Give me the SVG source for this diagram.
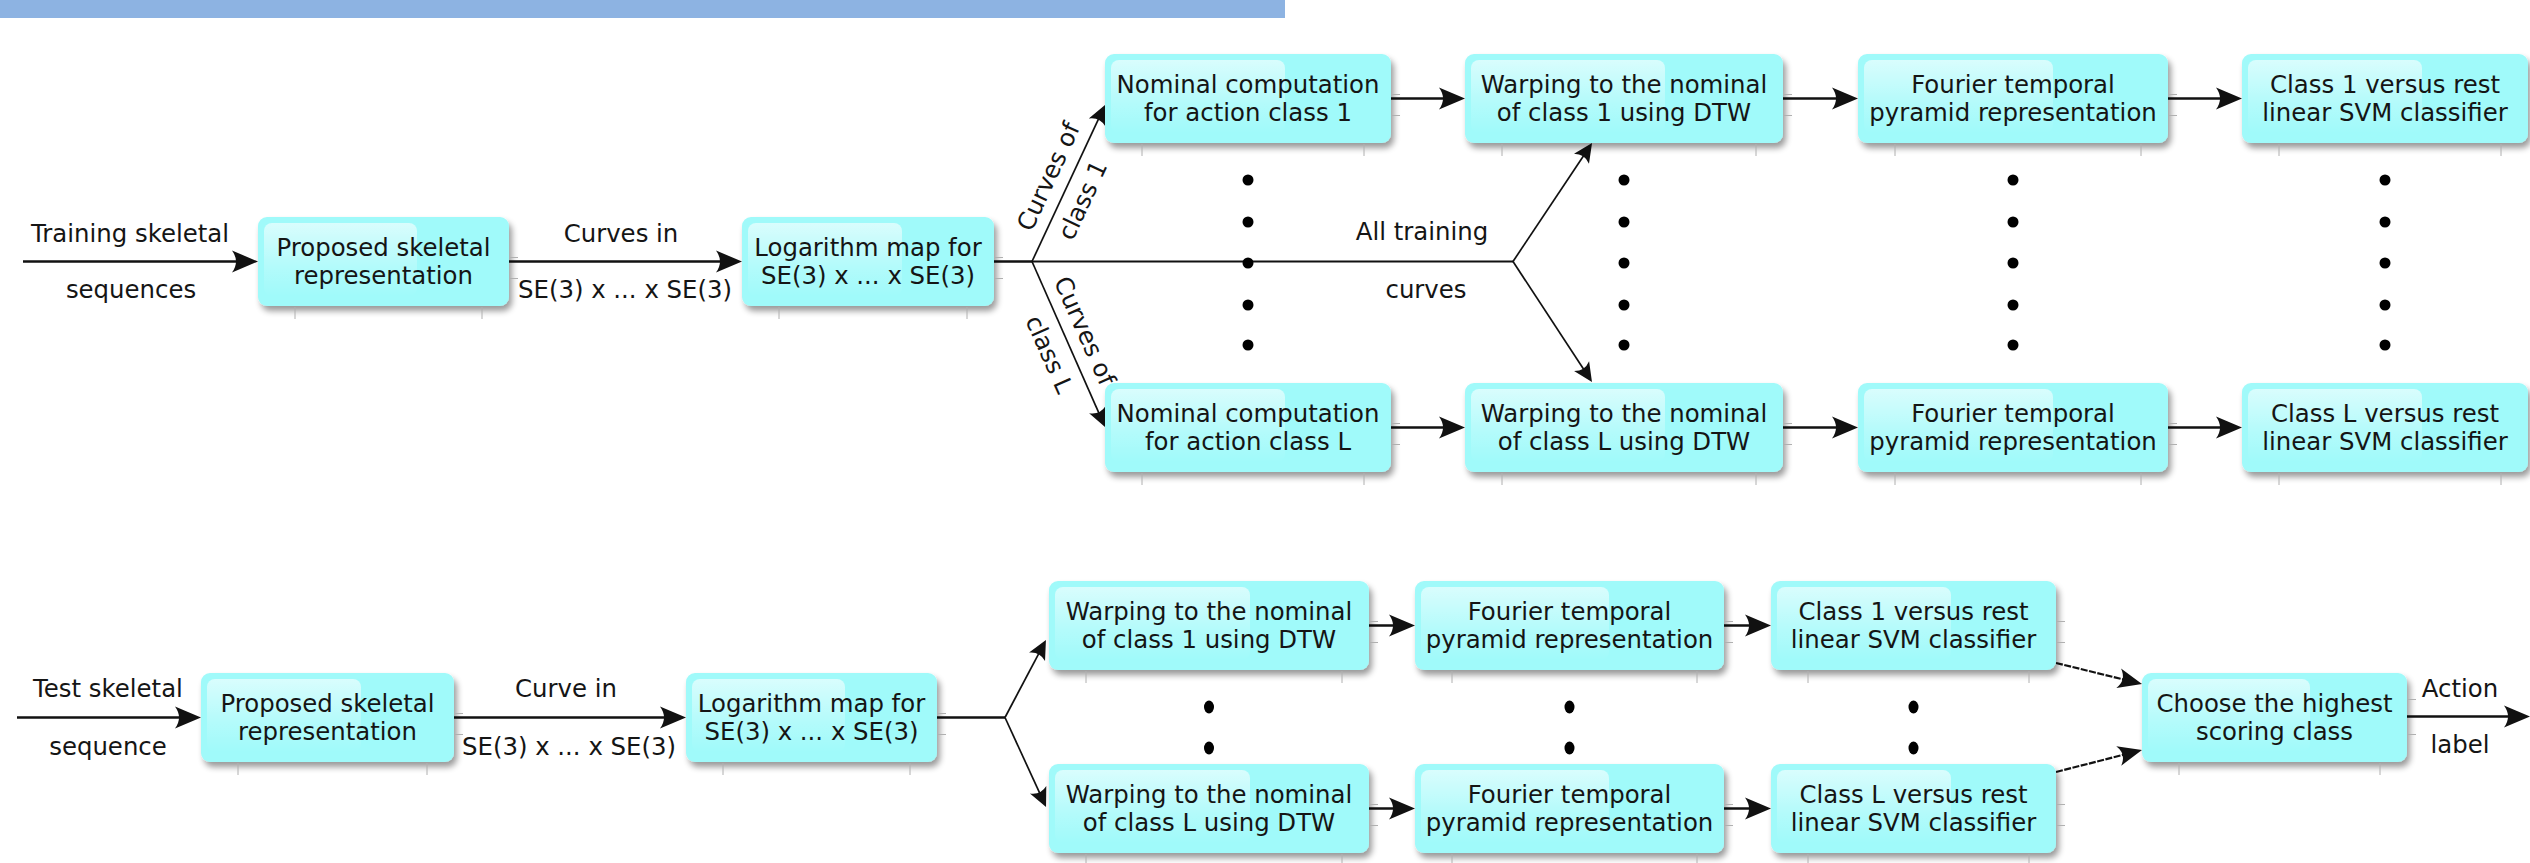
<svg xmlns="http://www.w3.org/2000/svg" width="2530" height="863" viewBox="0 0 2530 863">
<defs>
<style>
.bg{fill:#a0fafa}
.gl{fill:url(#glg)}
.t{font-family:"DejaVu Sans","Verdana",sans-serif;font-size:24.4px;fill:#151515;text-anchor:middle}
.tick{stroke:#b0b0b0;stroke-width:1;fill:none}
.ln{stroke:#111;stroke-width:2.7;fill:none}
.lt{stroke:#111;stroke-width:1.7;fill:none}
.ld{stroke:#111;stroke-width:2.2;fill:none;stroke-dasharray:7 1.5}
.dot{fill:#000}
</style>
<linearGradient id="glg" x1="0" y1="0" x2="0" y2="1">
<stop offset="0" stop-color="#fff" stop-opacity="0.6"/>
<stop offset="0.6" stop-color="#fff" stop-opacity="0.2"/>
<stop offset="1" stop-color="#fff" stop-opacity="0"/>
</linearGradient>
<filter id="sh" x="-10%" y="-10%" width="130%" height="145%">
<feGaussianBlur in="SourceAlpha" stdDeviation="3"/>
<feOffset dx="3" dy="5" result="o"/>
<feComponentTransfer><feFuncA type="linear" slope="0.4"/></feComponentTransfer>
<feMerge><feMergeNode/><feMergeNode in="SourceGraphic"/></feMerge>
</filter>
<marker id="ab" markerUnits="userSpaceOnUse" viewBox="-27 -12 28 24" refX="-12" refY="0" markerWidth="28" markerHeight="24" orient="auto">
<path d="M0,0 L-26,-11 Q-18,0 -26,11 Z" fill="#111"/>
</marker>
<marker id="as" markerUnits="userSpaceOnUse" viewBox="-20 -10 21 20" refX="-8" refY="0" markerWidth="21" markerHeight="20" orient="auto">
<path d="M0,0 L-19,-9 Q-13,0 -19,9 Z" fill="#111"/>
</marker>
<marker id="am" markerUnits="userSpaceOnUse" viewBox="-25 -11 26 22" refX="-10" refY="0" markerWidth="26" markerHeight="22" orient="auto">
<path d="M0,0 L-24,-10 Q-16,0 -24,10 Z" fill="#111"/>
</marker>
</defs>
<rect x="0" y="0" width="2530" height="863" fill="#fff"/>
<rect id="titlebar" x="0" y="0" width="1285" height="18" fill="#8db3e2"/>

<g id="connectors">
<line class="ln" x1="23" y1="261.5" x2="246" y2="261.5" marker-end="url(#ab)"/>
<line class="ln" x1="509" y1="261.5" x2="730" y2="261.5" marker-end="url(#ab)"/>
<line class="ln" x1="994" y1="261.5" x2="1032" y2="261.5"/>
<line class="ln" style="stroke-width:2.2" x1="1032" y1="261.5" x2="1513" y2="261.5"/>
<line class="lt" x1="1032" y1="261.5" x2="1101.6" y2="112.3" marker-end="url(#as)"/>
<line class="lt" x1="1032" y1="261.5" x2="1101.8" y2="419.7" marker-end="url(#as)"/>
<line class="lt" x1="1513" y1="261.5" x2="1587.6" y2="149.7" marker-end="url(#as)"/>
<line class="lt" x1="1513" y1="261.5" x2="1587.6" y2="375.3" marker-end="url(#as)"/>
<line class="ln" x1="1391" y1="98.5" x2="1453" y2="98.5" marker-end="url(#ab)"/>
<line class="ln" x1="1783" y1="98.5" x2="1846" y2="98.5" marker-end="url(#ab)"/>
<line class="ln" x1="2168" y1="98.5" x2="2230" y2="98.5" marker-end="url(#ab)"/>
<line class="ln" x1="1391" y1="427.5" x2="1453" y2="427.5" marker-end="url(#ab)"/>
<line class="ln" x1="1783" y1="427.5" x2="1846" y2="427.5" marker-end="url(#ab)"/>
<line class="ln" x1="2168" y1="427.5" x2="2230" y2="427.5" marker-end="url(#ab)"/>

<line class="ln" x1="17" y1="717.5" x2="189" y2="717.5" marker-end="url(#ab)"/>
<line class="ln" x1="454" y1="717.5" x2="674" y2="717.5" marker-end="url(#ab)"/>
<line class="ln" x1="937" y1="717.5" x2="1005" y2="717.5"/>
<line class="lt" x1="1005" y1="717.5" x2="1042.2" y2="647.1" marker-end="url(#as)"/>
<line class="lt" x1="1005" y1="717.5" x2="1042.7" y2="799.7" marker-end="url(#as)"/>
<line class="ln" x1="1369" y1="625.5" x2="1403" y2="625.5" marker-end="url(#ab)"/>
<line class="ln" x1="1724" y1="625.5" x2="1759" y2="625.5" marker-end="url(#ab)"/>
<line class="ln" x1="1369" y1="808.5" x2="1403" y2="808.5" marker-end="url(#ab)"/>
<line class="ln" x1="1724" y1="808.5" x2="1759" y2="808.5" marker-end="url(#ab)"/>
<line class="ld" x1="2056" y1="663" x2="2132.3" y2="681.6" marker-end="url(#am)"/>
<line class="ld" x1="2056" y1="772" x2="2132.3" y2="752.5" marker-end="url(#am)"/>
<line class="ln" x1="2407" y1="716.5" x2="2518" y2="716.5" marker-end="url(#ab)"/>
</g>

<g id="labels">
<text class="t" x="130" y="242">Training skeletal</text>
<text class="t" x="131" y="298">sequences</text>
<text class="t" x="621" y="242">Curves in</text>
<text class="t" x="625" y="298">SE(3) x ... x SE(3)</text>
<text class="t" x="1422" y="240">All training</text>
<text class="t" x="1426" y="298">curves</text>
<g transform="translate(1066,187) rotate(-65)">
<text class="t" x="2" y="-12">Curves of</text>
<text class="t" x="-5" y="29">class 1</text>
</g>
<g transform="translate(1067,341) rotate(66)">
<text class="t" x="-2" y="-12">Curves of</text>
<text class="t" x="5" y="30">class L</text>
</g>
<text class="t" x="108" y="697">Test skeletal</text>
<text class="t" x="108" y="755">sequence</text>
<text class="t" x="566" y="697">Curve in</text>
<text class="t" x="569" y="755">SE(3) x ... x SE(3)</text>
<text class="t" x="2460" y="697">Action</text>
<text class="t" x="2460" y="753">label</text>
</g>

<g id="dots">
<circle class="dot" cx="1248" cy="180" r="5.5"/><circle class="dot" cx="1248" cy="222" r="5.5"/><circle class="dot" cx="1248" cy="263" r="5.5"/><circle class="dot" cx="1248" cy="305" r="5.5"/><circle class="dot" cx="1248" cy="345" r="5.5"/>
<circle class="dot" cx="1624" cy="180" r="5.5"/><circle class="dot" cx="1624" cy="222" r="5.5"/><circle class="dot" cx="1624" cy="263" r="5.5"/><circle class="dot" cx="1624" cy="305" r="5.5"/><circle class="dot" cx="1624" cy="345" r="5.5"/>
<circle class="dot" cx="2013" cy="180" r="5.5"/><circle class="dot" cx="2013" cy="222" r="5.5"/><circle class="dot" cx="2013" cy="263" r="5.5"/><circle class="dot" cx="2013" cy="305" r="5.5"/><circle class="dot" cx="2013" cy="345" r="5.5"/>
<circle class="dot" cx="2385" cy="180" r="5.5"/><circle class="dot" cx="2385" cy="222" r="5.5"/><circle class="dot" cx="2385" cy="263" r="5.5"/><circle class="dot" cx="2385" cy="305" r="5.5"/><circle class="dot" cx="2385" cy="345" r="5.5"/>
<ellipse class="dot" cx="1209" cy="707" rx="5" ry="6.5"/><ellipse class="dot" cx="1209" cy="748" rx="5" ry="6.5"/>
<ellipse class="dot" cx="1569.5" cy="707" rx="5" ry="6.5"/><ellipse class="dot" cx="1569.5" cy="748" rx="5" ry="6.5"/>
<ellipse class="dot" cx="1913.5" cy="707" rx="5" ry="6.5"/><ellipse class="dot" cx="1913.5" cy="748" rx="5" ry="6.5"/>
</g>

<g id="n_prop1">
<rect class="bg" filter="url(#sh)" x="258" y="217" width="251" height="89" rx="9"/>
<rect class="gl" x="264" y="223" width="153" height="73" rx="8"/>
<text class="t" x="383.5" y="255.5">Proposed skeletal</text>
<text class="t" x="383.5" y="284">representation</text>
<path class="tick" d="M295,307v12M482,307v12M510,257.5h8M510,278.5h8"/>
</g>
<g id="n_log1">
<rect class="bg" filter="url(#sh)" x="742" y="217" width="252" height="89" rx="9"/>
<rect class="gl" x="748" y="223" width="154" height="73" rx="8"/>
<text class="t" x="868" y="255.5">Logarithm map for</text>
<text class="t" x="868" y="284">SE(3) x ... x SE(3)</text>
<path class="tick" d="M779,307v12M967,307v12M995,257.5h8M995,278.5h8"/>
</g>
<g id="n_nom1">
<rect class="bg" filter="url(#sh)" x="1105" y="54" width="286" height="89" rx="9"/>
<rect class="gl" x="1111" y="60" width="174" height="73" rx="8"/>
<text class="t" x="1248" y="92.5">Nominal computation</text>
<text class="t" x="1248" y="121">for action class 1</text>
<path class="tick" d="M1142,144v12M1364,144v12M1392,94.5h8M1392,115.5h8"/>
</g>
<g id="n_nomL">
<rect class="bg" filter="url(#sh)" x="1105" y="383" width="286" height="89" rx="9"/>
<rect class="gl" x="1111" y="389" width="174" height="73" rx="8"/>
<text class="t" x="1248" y="421.5">Nominal computation</text>
<text class="t" x="1248" y="450">for action class L</text>
<path class="tick" d="M1142,473v12M1364,473v12M1392,423.5h8M1392,444.5h8"/>
</g>
<g id="n_warp1">
<rect class="bg" filter="url(#sh)" x="1465" y="54" width="318" height="89" rx="9"/>
<rect class="gl" x="1471" y="60" width="194" height="73" rx="8"/>
<text class="t" x="1624" y="92.5">Warping to the nominal</text>
<text class="t" x="1624" y="121">of class 1 using DTW</text>
<path class="tick" d="M1502,144v12M1756,144v12M1784,94.5h8M1784,115.5h8"/>
</g>
<g id="n_warpL">
<rect class="bg" filter="url(#sh)" x="1465" y="383" width="318" height="89" rx="9"/>
<rect class="gl" x="1471" y="389" width="194" height="73" rx="8"/>
<text class="t" x="1624" y="421.5">Warping to the nominal</text>
<text class="t" x="1624" y="450">of class L using DTW</text>
<path class="tick" d="M1502,473v12M1756,473v12M1784,423.5h8M1784,444.5h8"/>
</g>
<g id="n_four1">
<rect class="bg" filter="url(#sh)" x="1858" y="54" width="310" height="89" rx="9"/>
<rect class="gl" x="1864" y="60" width="189" height="73" rx="8"/>
<text class="t" x="2013" y="92.5">Fourier temporal</text>
<text class="t" x="2013" y="121">pyramid representation</text>
<path class="tick" d="M1895,144v12M2141,144v12M2169,94.5h8M2169,115.5h8"/>
</g>
<g id="n_fourL">
<rect class="bg" filter="url(#sh)" x="1858" y="383" width="310" height="89" rx="9"/>
<rect class="gl" x="1864" y="389" width="189" height="73" rx="8"/>
<text class="t" x="2013" y="421.5">Fourier temporal</text>
<text class="t" x="2013" y="450">pyramid representation</text>
<path class="tick" d="M1895,473v12M2141,473v12M2169,423.5h8M2169,444.5h8"/>
</g>
<g id="n_svm1">
<rect class="bg" filter="url(#sh)" x="2242" y="54" width="286" height="89" rx="9"/>
<rect class="gl" x="2248" y="60" width="174" height="73" rx="8"/>
<text class="t" x="2385" y="92.5">Class 1 versus rest</text>
<text class="t" x="2385" y="121">linear SVM classifier</text>
<path class="tick" d="M2279,144v12M2501,144v12"/>
</g>
<g id="n_svmL">
<rect class="bg" filter="url(#sh)" x="2242" y="383" width="286" height="89" rx="9"/>
<rect class="gl" x="2248" y="389" width="174" height="73" rx="8"/>
<text class="t" x="2385" y="421.5">Class L versus rest</text>
<text class="t" x="2385" y="450">linear SVM classifier</text>
<path class="tick" d="M2279,473v12M2501,473v12"/>
</g>

<g id="n_prop2">
<rect class="bg" filter="url(#sh)" x="201" y="673" width="253" height="89" rx="9"/>
<rect class="gl" x="207" y="679" width="154" height="73" rx="8"/>
<text class="t" x="327.5" y="711.5">Proposed skeletal</text>
<text class="t" x="327.5" y="740">representation</text>
<path class="tick" d="M238,763v12M427,763v12M455,713.5h8M455,734.5h8"/>
</g>
<g id="n_log2">
<rect class="bg" filter="url(#sh)" x="686" y="673" width="251" height="89" rx="9"/>
<rect class="gl" x="692" y="679" width="153" height="73" rx="8"/>
<text class="t" x="811.5" y="711.5">Logarithm map for</text>
<text class="t" x="811.5" y="740">SE(3) x ... x SE(3)</text>
<path class="tick" d="M723,763v12M910,763v12M938,713.5h8M938,734.5h8"/>
</g>
<g id="n_warpB1">
<rect class="bg" filter="url(#sh)" x="1049" y="581" width="320" height="89" rx="9"/>
<rect class="gl" x="1055" y="587" width="195" height="73" rx="8"/>
<text class="t" x="1209" y="619.5">Warping to the nominal</text>
<text class="t" x="1209" y="648">of class 1 using DTW</text>
<path class="tick" d="M1086,671v12M1342,671v12M1370,621.5h8M1370,642.5h8"/>
</g>
<g id="n_warpBL">
<rect class="bg" filter="url(#sh)" x="1049" y="764" width="320" height="89" rx="9"/>
<rect class="gl" x="1055" y="770" width="195" height="73" rx="8"/>
<text class="t" x="1209" y="802.5">Warping to the nominal</text>
<text class="t" x="1209" y="831">of class L using DTW</text>
<path class="tick" d="M1086,854v12M1342,854v12M1370,804.5h8M1370,825.5h8"/>
</g>
<g id="n_fourB1">
<rect class="bg" filter="url(#sh)" x="1415" y="581" width="309" height="89" rx="9"/>
<rect class="gl" x="1421" y="587" width="188" height="73" rx="8"/>
<text class="t" x="1569.5" y="619.5">Fourier temporal</text>
<text class="t" x="1569.5" y="648">pyramid representation</text>
<path class="tick" d="M1452,671v12M1697,671v12M1725,621.5h8M1725,642.5h8"/>
</g>
<g id="n_fourBL">
<rect class="bg" filter="url(#sh)" x="1415" y="764" width="309" height="89" rx="9"/>
<rect class="gl" x="1421" y="770" width="188" height="73" rx="8"/>
<text class="t" x="1569.5" y="802.5">Fourier temporal</text>
<text class="t" x="1569.5" y="831">pyramid representation</text>
<path class="tick" d="M1452,854v12M1697,854v12M1725,804.5h8M1725,825.5h8"/>
</g>
<g id="n_svmB1">
<rect class="bg" filter="url(#sh)" x="1771" y="581" width="285" height="89" rx="9"/>
<rect class="gl" x="1777" y="587" width="174" height="73" rx="8"/>
<text class="t" x="1913.5" y="619.5">Class 1 versus rest</text>
<text class="t" x="1913.5" y="648">linear SVM classifier</text>
<path class="tick" d="M1808,671v12M2029,671v12M2057,621.5h8M2057,642.5h8"/>
</g>
<g id="n_svmBL">
<rect class="bg" filter="url(#sh)" x="1771" y="764" width="285" height="89" rx="9"/>
<rect class="gl" x="1777" y="770" width="174" height="73" rx="8"/>
<text class="t" x="1913.5" y="802.5">Class L versus rest</text>
<text class="t" x="1913.5" y="831">linear SVM classifier</text>
<path class="tick" d="M1808,854v12M2029,854v12M2057,804.5h8M2057,825.5h8"/>
</g>
<g id="n_choose">
<rect class="bg" filter="url(#sh)" x="2142" y="673" width="265" height="89" rx="9"/>
<rect class="gl" x="2148" y="679" width="162" height="73" rx="8"/>
<text class="t" x="2274.5" y="711.5">Choose the highest</text>
<text class="t" x="2274.5" y="740">scoring class</text>
<path class="tick" d="M2179,763v12M2380,763v12M2408,699.5h8M2408,734.5h8"/>
</g>
</svg>
